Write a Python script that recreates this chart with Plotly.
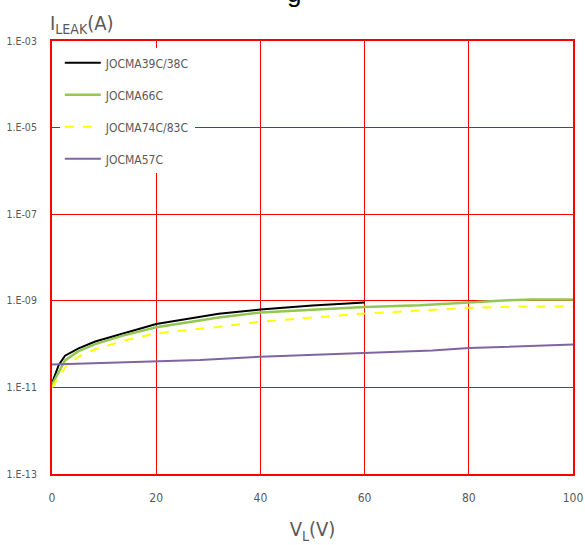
import plotly.graph_objects as go

# ---------------- data ----------------
v_39 = [0, 1.3, 2.5, 5, 8.3, 13.4, 20, 32, 40, 50, 60]
i_39 = [1.26e-11, 3.3e-11, 5.4e-11, 7.9e-11, 1.15e-10, 1.7e-10, 2.9e-10, 5.0e-10, 6.3e-10, 7.8e-10, 9.1e-10]

v_66 = [0, 1.3, 2.5, 5, 8.3, 13.4, 20, 32, 40, 60, 70.6, 80, 86.6, 92, 100]
i_66 = [1.15e-11, 2.3e-11, 4.2e-11, 6.8e-11, 1.0e-10, 1.55e-10, 2.45e-10, 4.1e-10, 5.4e-10,
        7.2e-10, 7.9e-10, 9.1e-10, 1.02e-9, 1.07e-9, 1.07e-9]

v_74 = [0, 1.3, 2.5, 5, 8.3, 13.4, 20, 32, 40, 60, 70.6, 80, 90, 100]
i_74 = [1.0e-11, 1.8e-11, 2.9e-11, 5.1e-11, 7.6e-11, 1.17e-10, 1.78e-10, 2.5e-10, 3.3e-10,
        5.1e-10, 5.9e-10, 6.9e-10, 7.4e-10, 7.4e-10]

v_57 = [0, 28.4, 40, 60, 73, 80, 100]
i_57 = [3.4e-11, 4.3e-11, 5.1e-11, 6.3e-11, 7.1e-11, 8.1e-11, 9.8e-11]

names = ["JOCMA39C/38C", "JOCMA66C", "JOCMA74C/83C", "JOCMA57C"]

y_tickvals = [1e-13, 1e-11, 1e-9, 1e-7, 1e-5, 1e-3]
y_ticktext = ["1.E-13", "1.E-11", "1.E-09", "1.E-07", "1.E-05", "1.E-03"]
x_tickvals = [0, 20, 40, 60, 80, 100]

# ---------------- figure ----------------
FONT = "DejaVu Sans Condensed, DejaVu Sans, sans-serif"
GREY = "#595959"
RED = "#FF0000"

fig = go.Figure()
series = [
    (v_39, i_39, names[0], dict(color="#000000", width=2)),
    (v_66, i_66, names[1], dict(color="#92C851", width=2.5)),
    (v_74, i_74, names[2], dict(color="#FFFF00", width=2, dash="dash")),
    (v_57, i_57, names[3], dict(color="#8064A2", width=2)),
]
for k, (vx, iy, nm, ln) in enumerate(series):
    fig.add_trace(go.Scatter(x=vx, y=iy, name=nm, mode="lines", line=ln,
                             legendgroup=f"g{k}"))

fig.update_layout(
    width=585, height=545,
    margin=dict(l=52, r=12, t=41, b=71),
    plot_bgcolor="white", paper_bgcolor="white",
    font=dict(family=FONT, color=GREY, size=12),
    showlegend=True,
    legend=dict(
        x=0.015, y=0.983, xanchor="left", yanchor="top",
        bgcolor="white", borderwidth=0,
        font=dict(family=FONT, size=12, color=GREY),
        itemwidth=36, tracegroupgap=13,
    ),
    xaxis=dict(
        range=[0, 100], tickvals=x_tickvals, ticks="", showgrid=True,
        gridcolor=RED, gridwidth=1.2, zeroline=False, automargin=False,
        showline=True, linecolor=RED, linewidth=2, mirror=True,
        tickfont=dict(family=FONT, size=12, color=GREY),
        ticklabelstandoff=12,
        title=dict(text="V<sub>L</sub>(V)", font=dict(family=FONT, size=20, color=GREY),
                   standoff=18),
    ),
    yaxis=dict(
        type="log", range=[-13, -3], tickvals=y_tickvals, ticktext=y_ticktext,
        ticks="", showgrid=True, gridcolor=RED, gridwidth=1.2, zeroline=False,
        automargin=False,
        showline=True, linecolor=RED, linewidth=2, mirror=True,
        tickfont=dict(family=FONT, size=10.5, color=GREY),
        ticklabelstandoff=11,
    ),
    annotations=[
        dict(text="I<sub>LEAK</sub>(A)", xref="paper", yref="paper", x=0.0, y=1.0,
             xanchor="left", yanchor="bottom", yshift=2, xshift=-4, showarrow=False,
             font=dict(family=FONT, size=20, color=GREY)),
        dict(text="g", xref="paper", yref="paper", x=0.465, y=1.0,
             xanchor="center", yanchor="bottom", yshift=31, showarrow=False,
             font=dict(family="Liberation Sans, Arial, sans-serif", size=26, color="#000000")),
    ],
)

fig.write_html("out.html", config={"displayModeBar": False},
               post_script="document.body.style.margin='0';")
